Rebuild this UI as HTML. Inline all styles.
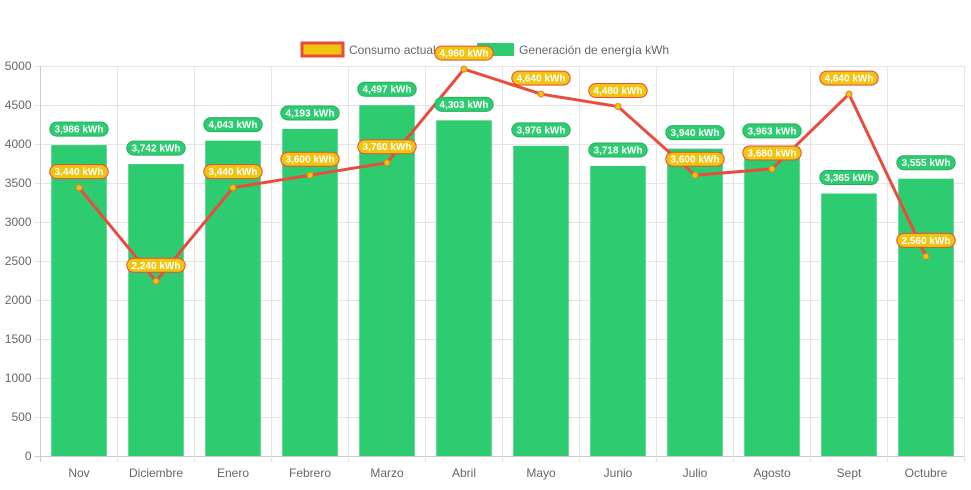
<!DOCTYPE html>
<html><head><meta charset="utf-8"><style>
body{margin:0;background:#fff;font-family:"Liberation Sans",Arial,sans-serif}
svg text{font-family:"Liberation Sans",Arial,sans-serif}
</style></head><body>
<svg id="c" width="971" height="485">
<g id="legend">
 <rect x="302" y="43" width="41" height="13" fill="#f1c40f" stroke="#e74c3c" stroke-width="3"/>
 <text x="349" y="54" font-size="12" fill="#666">Consumo actual</text>
 <rect x="477" y="43" width="37" height="13" fill="#2ecc71"/>
 <text x="519" y="54" font-size="12" fill="#666">Generación de energía kWh</text>
</g>
</svg>
<script>
const categories=["Nov","Diciembre","Enero","Febrero","Marzo","Abril","Mayo","Junio","Julio","Agosto","Sept","Octubre"];
const generacion=[3986,3742,4043,4193,4497,4303,3976,3718,3940,3963,3365,3555];
const consumo=[3440,2240,3440,3600,3760,4960,4640,4480,3600,3680,4640,2560];
const yTicks=[0,500,1000,1500,2000,2500,3000,3500,4000,4500,5000];
const NS="http://www.w3.org/2000/svg";
const svg=document.getElementById('c');
const L=40.5,R=964.5,T=66,B=456,yMax=5000;
const step=(R-L)/categories.length;
const x=i=>L+step*(i+0.5);
const y=v=>B-(v/yMax)*(B-T);
function el(t,a,p){const e=document.createElementNS(NS,t);for(const k in a)e.setAttribute(k,a[k]);(p||svg).appendChild(e);return e;}
const fmt=v=>v.toLocaleString('en-US')+' kWh';
const grid=el('g',{});


yTicks.forEach(t=>{
 const l=el('line',{x1:L-6,x2:R,y1:Math.round(y(t))+0.5,y2:Math.round(y(t))+0.5,stroke:t===0?'#ccc':'#e5e5e5'},grid);
 
 
 const tx=el('text',{x:L-9,y:y(t)+4,'text-anchor':'end','font-size':12,fill:'#666'});
 tx.textContent=t;
 
 
});
for(let i=0;i<=categories.length;i++){
 const l=el('line',{x1:L+step*i,x2:L+step*i,y1:T,y2:B+6,stroke:i===0?'#ccc':'#e5e5e5'},grid);
 
 
}
categories.forEach((c,i)=>{
 const tx=el('text',{x:x(i),y:477,'text-anchor':'middle','font-size':12,fill:'#666'});
 tx.textContent=c;
 
 
});
const bw=step*0.72;
generacion.forEach((v,i)=>{
 const r=el('rect',{x:x(i)-bw/2,y:y(v),width:bw,height:B-y(v),fill:'#2ecc71'});
 
 
});
const pl=el('polyline',{points:consumo.map((v,i)=>x(i)+','+y(v)).join(' '),fill:'none',stroke:'#e74c3c','stroke-width':3});


consumo.forEach((v,i)=>{
 const p=el('circle',{cx:x(i),cy:y(v),r:3,fill:'#f1c40f',stroke:'#e67e22','stroke-width':1});
 
 
});
function label(cx,cy,text,fill,stroke,name){
 const g=el('g',{});
 
 
 const w=text.length*5.6+8;
 el('rect',{x:cx-w/2,y:cy-7,width:w,height:14,rx:7,fill:fill,stroke:stroke,'stroke-width':1},g);
 const t=el('text',{x:cx,y:cy+3.5,'text-anchor':'middle','font-size':10,'font-weight':'bold',fill:'#fff'},g);
 t.textContent=text;
}
generacion.forEach((v,i)=>label(x(i),y(v)-16,fmt(v),'#2ecc71','#27ae60','label-generacion'));
consumo.forEach((v,i)=>label(x(i),y(v)-16,fmt(v),'#f1c40f','#e74c3c','label-consumo'));
</script>
</body></html>
